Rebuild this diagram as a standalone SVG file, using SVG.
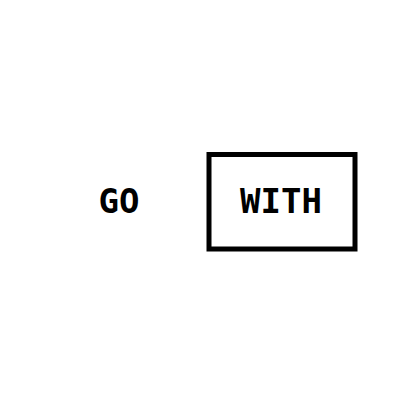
<svg xmlns="http://www.w3.org/2000/svg" width="400" height="400" viewBox="0 0 400 400">
<style>
.t{font-family:"DejaVu Sans Mono","Liberation Mono",monospace;font-weight:bold;font-size:34px;fill:#000;text-anchor:middle}
.box{fill:#fff;stroke:#000;stroke-width:5}
</style>
<rect width="400" height="400" fill="#fff"/>
<g id="go"><text class="t" x="119" y="213">GO</text></g>
<g id="with"><rect class="box" x="209" y="154.5" width="146" height="94.5"/><text class="t" x="281" y="213">WITH</text></g>
<g id="connectors"></g>
</svg>
